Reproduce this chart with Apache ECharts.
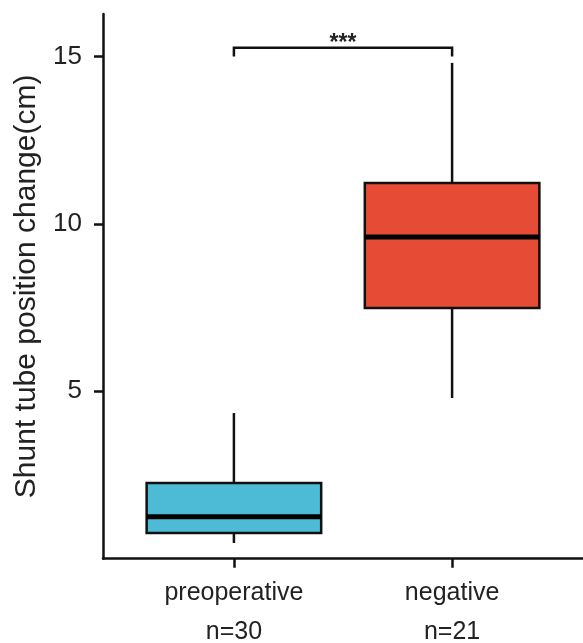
<!DOCTYPE html>
<html>
<head>
<meta charset="utf-8">
<script src="https://cdn.jsdelivr.net/npm/echarts@6/dist/echarts.min.js"></script>
<style>
  html, body { margin: 0; padding: 0; background: #fff; }
  #main { width: 583px; height: 643px; }
</style>
</head>
<body>
<div id="main"></div>
<script>
// groups and their sample sizes
const categories = ["preoperative", "negative"];
const counts = [30, 21];

// five-number summaries
const mins = [0.47, 4.8];
const q1s = [0.77, 7.49];
const medians = [1.25, 9.61];
const q3s = [2.26, 11.22];
const maxs = [4.35, 14.81];

const yTicks = [5, 10, 15];

// significance bracket between the two groups
const sigText = "***";
const sigTop = 15.26;
const sigFoot = 15.0;

const colors = ["#4DBBD5", "#E64B35"];
const font = "Liberation Sans, Arial, sans-serif";

const boxData = categories.map((c, i) => [i + 1, mins[i], q1s[i], medians[i], q3s[i], maxs[i]]);

const myChart = echarts.init(document.getElementById("main"));

const option = {
   backgroundColor: "#fff",
   animation: false,
   grid: { left: 103, right: 0, top: 14, bottom: 84.3, outerBoundsMode: "none", containLabel: false },
   xAxis: {
      type: "value",
      min: 0.4,
      max: 2.6,
      splitLine: { show: false },
      axisLine: { show: true, lineStyle: { color: "#111", width: 2.5 } },
      axisTick: { show: true, length: 9, customValues: [1, 2], lineStyle: { color: "#111", width: 2.5 } },
      axisLabel: {
         customValues: [1, 2],
         margin: 15,
         fontFamily: font,
         fontSize: 25,
         color: "#222",
         lineHeight: 39,
         formatter: (v) => {
            const i = Math.round(v) - 1;
            return categories[i] + "\nn=" + counts[i];
         },
      },
   },
   yAxis: {
      type: "value",
      min: 0,
      max: 16.27,
      name: "Shunt tube position change(cm)",
      nameLocation: "middle",
      nameGap: 61,
      nameTextStyle: { fontFamily: font, fontSize: 30, color: "#222" },
      splitLine: { show: false },
      axisLine: { show: true, lineStyle: { color: "#111", width: 2.5 } },
      axisTick: { show: true, length: 9, customValues: yTicks, lineStyle: { color: "#111", width: 2.5 } },
      axisLabel: {
         customValues: yTicks,
         margin: 21,
         fontFamily: font,
         fontSize: 26,
         color: "#222",
      },
   },
   series: [
      {
         type: "custom",
         data: boxData,
         encode: { x: 0, y: [1, 2, 3, 4, 5] },
         renderItem: (params, api) => {
            const x = api.value(0);
            const pMin = api.coord([x, api.value(1)]);
            const pQ1 = api.coord([x, api.value(2)]);
            const pMed = api.coord([x, api.value(3)]);
            const pQ3 = api.coord([x, api.value(4)]);
            const pMax = api.coord([x, api.value(5)]);
            const w = api.size([0.8, 0])[0];
            const line = { stroke: "#111", lineWidth: 2.5 };
            return {
               type: "group",
               children: [
                  { type: "line", shape: { x1: pMax[0], y1: pMax[1], x2: pQ3[0], y2: pQ3[1] }, style: line },
                  { type: "line", shape: { x1: pQ1[0], y1: pQ1[1], x2: pMin[0], y2: pMin[1] }, style: line },
                  {
                     type: "rect",
                     shape: { x: pQ3[0] - w / 2, y: pQ3[1], width: w, height: pQ1[1] - pQ3[1] },
                     style: { fill: colors[params.dataIndex], stroke: "#111", lineWidth: 2.5 },
                  },
                  {
                     type: "line",
                     shape: { x1: pMed[0] - w / 2, y1: pMed[1], x2: pMed[0] + w / 2, y2: pMed[1] },
                     style: { stroke: "#000", lineWidth: 5 },
                  },
               ],
            };
         },
      },
      {
         type: "custom",
         data: [[1, 2, sigTop, sigFoot]],
         encode: { x: [0, 1], y: [2, 3] },
         renderItem: (params, api) => {
            const a = api.coord([api.value(0), api.value(3)]);
            const b = api.coord([api.value(0), api.value(2)]);
            const c = api.coord([api.value(1), api.value(2)]);
            const d = api.coord([api.value(1), api.value(3)]);
            return {
               type: "group",
               children: [
                  {
                     type: "polyline",
                     shape: { points: [a, b, c, d] },
                     style: { stroke: "#111", lineWidth: 2.5, fill: null },
                  },
                  {
                     type: "text",
                     x: (b[0] + c[0]) / 2,
                     y: b[1] - 4,
                     style: {
                        text: sigText,
                        fontFamily: font,
                        fontSize: 23,
                        fontWeight: "bold",
                        fill: "#222",
                        align: "center",
                        verticalAlign: "middle",
                     },
                  },
               ],
            };
         },
      },
   ],
};

option && myChart.setOption(option);
</script>
</body>
</html>
